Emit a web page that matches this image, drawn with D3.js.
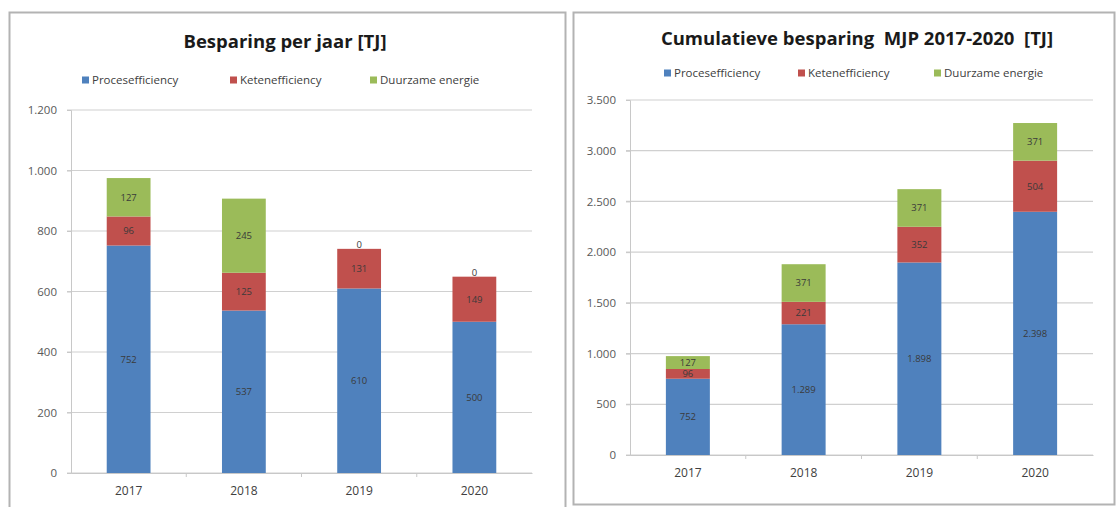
<!DOCTYPE html>
<html>
  <head>
    <meta charset="utf-8">
    <title> Besparing </title>
    <script src = "https://d3js.org/d3.v7.min.js" charset = "utf-8"></script>
    <style>
      body { margin: 0; background: #fff; }
      text { font-family: "Open Sans", "Noto Sans", sans-serif; }
    </style>
  </head>
  <body>
    <script>
      var width = 1117;
      var height = 507;

      // data
      var years = ["2017", "2018", "2019", "2020"];
      var seriesNames = ["Procesefficiency", "Ketenefficiency", "Duurzame energie"];

      var procesJaar = [752, 537, 610, 500];
      var ketenJaar = [96, 125, 131, 149];
      var duurzaamJaar = [127, 245, 0, 0];

      var procesCum = [752, 1289, 1898, 2398];
      var ketenCum = [96, 221, 352, 504];
      var duurzaamCum = [127, 371, 371, 371];

      var ticksJaar = [0, 200, 400, 600, 800, 1000, 1200];
      var ticksCum = [0, 500, 1000, 1500, 2000, 2500, 3000, 3500];

      var colors = ["#4F81BD", "#C0504D", "#9BBB59"];
      var fmt = function(v){ return d3.format(",")(v).replace(/,/g, "."); };

      var svg = d3.select("body")
        .append("svg")
        .attr("width", width)
        .attr("height", height);

      function panel(cfg){
        var g = svg.append("g");

        // chart frame
        g.append("rect")
          .attr("x", cfg.box[0]).attr("y", cfg.box[1])
          .attr("width", cfg.box[2]).attr("height", cfg.box[3])
          .attr("fill", "#fff")
          .attr("stroke", "#b3b3b3")
          .attr("stroke-width", 2);

        g.append("text")
          .attr("x", cfg.titleX).attr("y", cfg.titleY)
          .attr("text-anchor", "middle")
          .attr("font-size", 18.5)
          .attr("font-weight", "bold")
          .attr("fill", "#1a1a1a")
          .style("white-space", "pre")
          .text(cfg.title);

        // legend
        var leg = g.selectAll(".leg")
          .data(seriesNames)
          .enter()
          .append("g")
          .attr("transform", function(d, i){ return "translate(" + cfg.legX[i] + "," + cfg.legY + ")"; });
        leg.append("rect")
          .attr("x", 0).attr("y", -3.5)
          .attr("width", 7).attr("height", 7)
          .attr("fill", function(d, i){ return colors[i]; });
        leg.append("text")
          .attr("x", 10).attr("y", 0)
          .attr("dy", "0.35em")
          .attr("font-size", 11.5)
          .attr("fill", "#404040")
          .text(function(d){ return d; });

        var x = d3.scaleBand()
          .domain(years)
          .range(cfg.xRange)
          .paddingInner(0.62)
          .paddingOuter(0.31);

        var y = d3.scaleLinear()
          .domain([0, cfg.max])
          .range(cfg.yRange);

        // gridlines
        g.selectAll(".grid")
          .data(cfg.ticks)
          .enter()
          .append("line")
          .attr("x1", cfg.xRange[0] - 4).attr("x2", cfg.xRange[1])
          .attr("y1", function(d){ return y(d); })
          .attr("y2", function(d){ return y(d); })
          .attr("stroke", "#d0d0d0")
          .attr("stroke-width", 1.2);

        var yAxis = g.append("g")
          .attr("transform", "translate(" + cfg.xRange[0] + ",0)")
          .call(d3.axisLeft(y).tickValues(cfg.ticks).tickFormat(fmt).tickSize(4).tickPadding(10));
        yAxis.select(".domain").attr("stroke", "#c8c8c8");
        yAxis.selectAll(".tick line").attr("stroke", "#c8c8c8");
        yAxis.selectAll("text").attr("font-size", 11.5).attr("fill", "#595959");

        var xAxis = g.append("g")
          .attr("transform", "translate(0," + cfg.yRange[0] + ")")
          .call(d3.axisBottom(x).tickSize(0).tickPadding(13));
        xAxis.select(".domain").attr("stroke", "#c8c8c8");
        xAxis.selectAll("text").attr("font-size", 12).attr("fill", "#404040");

        // small tick marks between categories
        g.selectAll(".sep")
          .data(years.slice(1))
          .enter()
          .append("line")
          .attr("x1", function(d){ return x(d) - x.step() * x.paddingInner() / 2; })
          .attr("x2", function(d){ return x(d) - x.step() * x.paddingInner() / 2; })
          .attr("y1", cfg.yRange[0]).attr("y2", cfg.yRange[0] + 4)
          .attr("stroke", "#c8c8c8");

        var rows = years.map(function(yr, i){
          return { year: yr, p: cfg.series[0][i], k: cfg.series[1][i], d: cfg.series[2][i] };
        });
        var stack = d3.stack().keys(["p", "k", "d"])(rows);

        var layer = g.selectAll(".layer")
          .data(stack)
          .enter()
          .append("g")
          .attr("fill", function(d, i){ return colors[i]; });

        layer.selectAll("rect")
          .data(function(d){ return d; })
          .enter()
          .append("rect")
          .attr("x", function(d){ return x(d.data.year); })
          .attr("width", x.bandwidth())
          .attr("y", function(d){ return y(d[1]); })
          .attr("height", function(d){ return y(d[0]) - y(d[1]); });

        layer.selectAll("text")
          .data(function(d){ return d; })
          .enter()
          .append("text")
          .attr("x", function(d){ return x(d.data.year) + x.bandwidth() / 2; })
          .attr("y", function(d){ return (y(d[0]) + y(d[1])) / 2; })
          .attr("dy", function(d){ return d[1] - d[0] === 0 ? "-0.1em" : "0.35em"; })
          .attr("text-anchor", "middle")
          .attr("font-size", 9.5)
          .attr("fill", "#3a3a3a")
          .text(function(d){ return fmt(d[1] - d[0]); });
      }

      panel({
        box: [9.5, 12.5, 556, 500],
        title: "Besparing per jaar [TJ]",
        titleX: 285, titleY: 48,
        legX: [82, 230, 370], legY: 80,
        xRange: [71, 532], yRange: [473, 110],
        max: 1200, ticks: ticksJaar,
        series: [procesJaar, ketenJaar, duurzaamJaar]
      });

      panel({
        box: [573.5, 12.5, 541, 492],
        title: "Cumulatieve besparing  MJP 2017-2020  [TJ]",
        titleX: 857, titleY: 45,
        legX: [664, 798, 934], legY: 73,
        xRange: [630, 1093], yRange: [455, 100],
        max: 3500, ticks: ticksCum,
        series: [procesCum, ketenCum, duurzaamCum]
      });
    </script>
  </body>
</html>
